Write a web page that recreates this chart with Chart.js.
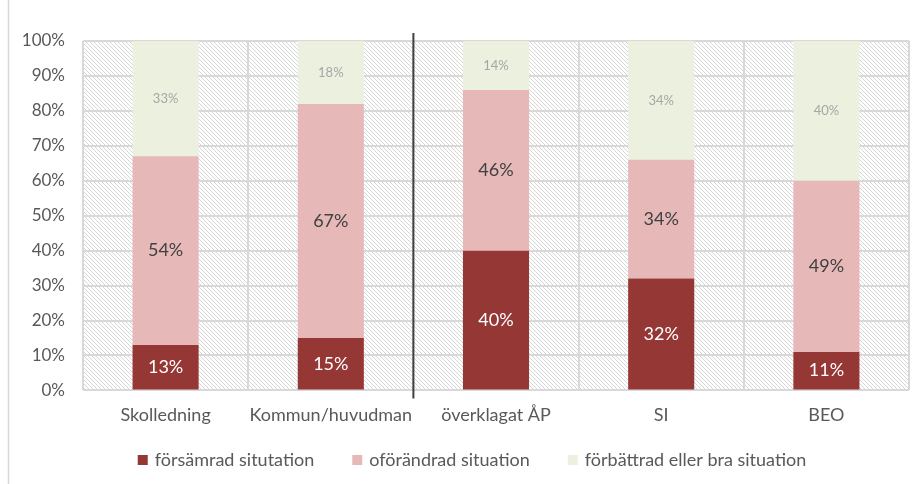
<!DOCTYPE html>
<html>
<head>
<meta charset="utf-8">
<script src="https://cdn.jsdelivr.net/npm/chart.js@4"></script>
<style>
  html, body { margin: 0; padding: 0; background: #fff; }
  #wrap { width: 920px; height: 484px; position: relative; }
</style>
</head>
<body>
<div id="wrap"><canvas id="chart" width="920" height="484"></canvas></div>
<script>
// Data
const categories = ['Skolledning', 'Kommun/huvudman', 'överklagat ÅP', 'SI', 'BEO'];
const worse = [13, 15, 40, 32, 11];
const same = [54, 67, 46, 34, 49];
const better = [33, 18, 14, 34, 40];
const yTicks = [0, 10, 20, 30, 40, 50, 60, 70, 80, 90, 100];

const FONT = "Lato, 'Open Sans', sans-serif";
Chart.defaults.font.family = FONT;
Chart.defaults.color = '#595959';

// Hatched plot background
function makeHatch() {
    const c = document.createElement('canvas');
    c.width = 4; c.height = 4;
    const g = c.getContext('2d');
    g.fillStyle = '#ffffff';
    g.fillRect(0, 0, 4, 4);
    g.strokeStyle = '#d6d6d6';
    g.lineWidth = 1;
    g.beginPath();
    g.moveTo(0, 0); g.lineTo(4, 4);
    g.moveTo(-1, 3); g.lineTo(1, 5);
    g.moveTo(3, -1); g.lineTo(5, 1);
    g.stroke();
    return g.createPattern(c, 'repeat');
}

const backdrop = {
    id: 'backdrop',
    beforeDraw(chart) {
        const { ctx, chartArea: a } = chart;
        ctx.save();
        ctx.fillStyle = makeHatch();
        ctx.fillRect(a.left, a.top, a.right - a.left, a.bottom - a.top);
        // page edge line on the left
        ctx.strokeStyle = '#d9d9d9';
        ctx.lineWidth = 1.5;
        ctx.beginPath();
        ctx.moveTo(8.5, 0);
        ctx.lineTo(8.5, chart.height);
        ctx.stroke();
        ctx.restore();
    },
    afterDatasetsDraw(chart) {
        const { ctx, chartArea: a, scales } = chart;
        // dark divider between group 2 and 3
        const x = (scales.x.getPixelForValue(1) + scales.x.getPixelForValue(2)) / 2;
        ctx.save();
        ctx.strokeStyle = '#404040';
        ctx.lineWidth = 2;
        ctx.beginPath();
        ctx.moveTo(x, a.top - 8);
        ctx.lineTo(x, a.bottom + 8);
        ctx.stroke();

        // value labels
        const styles = [
            { color: '#ffffff', font: '18px ' + FONT },
            { color: '#404040', font: '18px ' + FONT },
            { color: '#a6a6a6', font: '13px ' + FONT }
        ];
        ctx.textAlign = 'center';
        ctx.textBaseline = 'middle';
        chart.data.datasets.forEach((ds, i) => {
            const meta = chart.getDatasetMeta(i);
            ctx.fillStyle = styles[i].color;
            ctx.font = styles[i].font;
            meta.data.forEach((bar, j) => {
                const mid = (bar.y + bar.base) / 2;
                ctx.fillText(ds.data[j] + '%', bar.x, mid);
            });
        });

        // legend
        ctx.font = '18px ' + FONT;
        ctx.textAlign = 'left';
        const box = 10, gap = 7, spacing = 38;
        const items = chart.data.datasets.map(ds => ({
            label: ds.label, color: ds.backgroundColor, w: ctx.measureText(ds.label).width
        }));
        const total = items.reduce((s, it) => s + box + gap + it.w, 0) + spacing * (items.length - 1);
        let lx = 472 - total / 2;
        const ly = 460;
        items.forEach(it => {
            ctx.fillStyle = it.color;
            ctx.fillRect(lx, ly - box / 2, box, box);
            ctx.fillStyle = '#595959';
            ctx.fillText(it.label, lx + box + gap, ly);
            lx += box + gap + it.w + spacing;
        });
        ctx.restore();
    }
};

new Chart(document.getElementById('chart'), {
    type: 'bar',
    data: {
        labels: categories,
        datasets: [
            { label: 'försämrad situtation', data: worse, backgroundColor: '#953735' },
            { label: 'oförändrad situation', data: same, backgroundColor: '#e6b9b8' },
            { label: 'förbättrad eller bra situation', data: better, backgroundColor: '#ebf1de' }
        ]
    },
    options: {
        responsive: false,
        animation: false,
        layout: { padding: { left: 12, right: 11, top: 41, bottom: 44 } },
        datasets: { bar: { categoryPercentage: 1, barPercentage: 0.4 } },
        plugins: {
            tooltip: { enabled: false },
            legend: { display: false }
        },
        scales: {
            x: {
                stacked: true,
                grid: { color: '#d9d9d9', lineWidth: 2, offset: true, drawTicks: false },
                border: { display: false },
                ticks: {
                    padding: 14, color: '#595959', font: { size: 18 },
                    maxRotation: 0, minRotation: 0, autoSkip: false
                }
            },
            y: {
                stacked: true,
                min: 0,
                max: 100,
                afterBuildTicks(axis) {
                    axis.ticks = yTicks.map(v => ({ value: v }));
                },
                afterFit(axis) { axis.width = 71; },
                grid: { color: '#d9d9d9', lineWidth: 2, drawTicks: false },
                border: { display: false },
                ticks: {
                    padding: 18,
                    color: '#595959',
                    font: { size: 17 },
                    callback: v => v + '%'
                }
            }
        }
    },
    plugins: [backdrop]
});
</script>
</body>
</html>
